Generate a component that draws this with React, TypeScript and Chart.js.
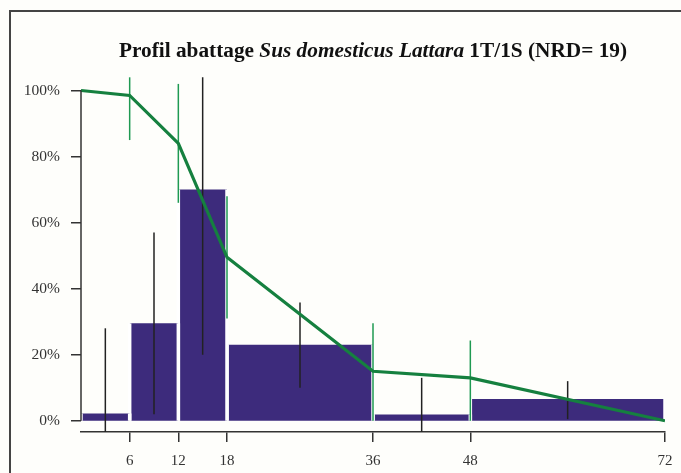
import React, { useEffect, useRef } from "react";
import { Chart, registerables } from "chart.js";

Chart.register(...registerables);

// ---- data ----
const ageBreaks = [0, 6, 12, 18, 36, 48, 72];
const barValues = [2.2, 29.5, 70, 23, 1.9, 6.6];
const errAges = [3, 9, 15, 27, 42, 60];
const errLow = [-3.5, 2, 20, 10, -3.5, 0.5];
const errHigh = [28, 57, 104, 35.8, 13, 12];
const survAges = [0, 6, 12, 18, 36, 48, 72];
const survValues = [100, 98.5, 84, 49.5, 15, 13, 0];
const survErrAges = [6, 12, 18, 36, 48];
const survErrLow = [85, 66, 31, 0, 0];
const survErrHigh = [104, 102, 68, 29.5, 24.3];
const xTicks = [6, 12, 18, 36, 48, 72];
const yTicks = [0, 20, 40, 60, 80, 100];

const BAR = "#3d2b7c";
const GREEN = "#15803f";
const GREEN_ERR = "#1f9a52";
const AXIS = "#333333";
const FONT = "'Liberation Serif', 'Times New Roman', serif";

const yAxisLine = {
  id: "yAxisLine",
  afterDatasetsDraw(chart: any) {
    const { ctx, scales } = chart;
    const x = scales.x.getPixelForValue(0);
    const y0 = scales.y.getPixelForValue(0);
    const y1 = scales.y.getPixelForValue(100);
    ctx.save();
    ctx.strokeStyle = AXIS;
    ctx.lineWidth = 1.5;
    ctx.beginPath();
    ctx.moveTo(x, y0);
    ctx.lineTo(x, y1);
    ctx.stroke();
    ctx.restore();
  },
};

export default function App() {
  const ref = useRef<HTMLCanvasElement>(null);

  useEffect(() => {
    if (!ref.current) return;
    const datasets: any[] = [];

    barValues.forEach((v, i) => {
      const x0 = ageBreaks[i];
      const x1 = ageBreaks[i + 1];
      datasets.push({
        type: "line",
        data: [
          { x: x0, y: 0 },
          { x: x0, y: v },
          { x: x1, y: v },
          { x: x1, y: 0 },
        ],
        backgroundColor: BAR,
        fill: "origin",
        borderWidth: 3.5,
        borderColor: "#ffffff",
        segment: {
          borderColor: (c: any) => (c.p0DataIndex === 1 ? "rgba(0,0,0,0)" : "#ffffff"),
        },
        pointRadius: 0,
        order: 10,
      });
    });

    errAges.forEach((a, i) => {
      datasets.push({
        type: "line",
        data: [
          { x: a, y: errLow[i] },
          { x: a, y: errHigh[i] },
        ],
        borderColor: "#222222",
        borderWidth: 1.5,
        pointRadius: 0,
        fill: false,
        order: 5,
      });
    });

    survErrAges.forEach((a, i) => {
      datasets.push({
        type: "line",
        data: [
          { x: a, y: survErrLow[i] },
          { x: a, y: survErrHigh[i] },
        ],
        borderColor: GREEN_ERR,
        borderWidth: 1.5,
        pointRadius: 0,
        fill: false,
        order: 4,
      });
    });

    datasets.push({
      type: "line",
      data: survAges.map((a, i) => ({ x: a, y: survValues[i] })),
      borderColor: GREEN,
      borderWidth: 3.2,
      pointRadius: 0,
      fill: false,
      order: 1,
    });

    const chart = new Chart(ref.current, {
      type: "line",
      data: { datasets },
      plugins: [yAxisLine],
      options: {
        animation: false,
        responsive: false,
        maintainAspectRatio: false,
        layout: { padding: { left: 0, right: 16, top: 74, bottom: 0 } },
        plugins: {
          legend: { display: false },
          tooltip: { enabled: false },
          title: { display: false },
        },
        scales: {
          x: {
            type: "linear",
            min: 0,
            max: 72,
            afterBuildTicks: (s: any) => {
              s.ticks = xTicks.map((v) => ({ value: v }));
            },
            afterFit: (s: any) => {
              s.height = 41;
              s.paddingLeft = 0;
              s.paddingRight = 0;
            },
            border: { display: true, color: AXIS, width: 1.5 },
            grid: { drawOnChartArea: false, drawTicks: true, tickLength: 10, color: AXIS, lineWidth: 1.5 },
            ticks: {
              autoSkip: false,
              maxRotation: 0,
              padding: 10,
              color: "#333333",
              font: { family: FONT, size: 15 },
              callback: (v: any) => String(v),
            },
          },
          y: {
            type: "linear",
            min: -3.4,
            max: 105,
            afterBuildTicks: (s: any) => {
              s.ticks = yTicks.map((v) => ({ value: v }));
            },
            afterFit: (s: any) => {
              s.width = 81;
            },
            border: { display: false },
            grid: { drawOnChartArea: false, drawTicks: true, tickLength: 10, color: AXIS, lineWidth: 1.5 },
            ticks: {
              padding: 11,
              color: "#333333",
              font: { family: FONT, size: 15.5 },
              callback: (v: any) => v + "%",
            },
          },
        },
      },
    });
    return () => chart.destroy();
  }, []);

  return (
    <div style={{ position: "fixed", left: 0, top: 0, width: 681, height: 473, background: "#fefefb", overflow: "hidden" }}>
      <div
        style={{
          position: "absolute",
          left: 9,
          top: 10,
          width: 700,
          height: 500,
          borderLeft: "2px solid #444",
          borderTop: "2px solid #444",
        }}
      />
      <canvas ref={ref} width={681} height={473} style={{ position: "absolute", left: 0, top: 0 }} />
      <div
        style={{
          position: "absolute",
          left: 81,
          width: 584,
          top: 38,
          textAlign: "center",
          fontFamily: FONT,
          fontWeight: "bold",
          fontSize: 21.3,
          color: "#111",
          whiteSpace: "nowrap",
        }}
      >
        Profil abattage <i>Sus domesticus Lattara</i> 1T/1S (NRD= 19)
      </div>
    </div>
  );
}
